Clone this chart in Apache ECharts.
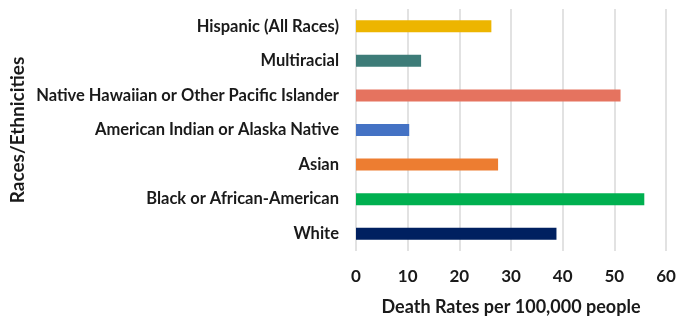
<!DOCTYPE html>
<html>
<head>
<meta charset="utf-8">
<script src="https://cdn.jsdelivr.net/npm/echarts@6/dist/echarts.min.js"></script>
<style>
  html, body { margin: 0; padding: 0; background: #fff; }
  #chart { width: 677px; height: 318px; }
</style>
</head>
<body>
<div id="chart"></div>
<script>
// categories bottom to top (category axis draws first at the bottom)
var groups = ['White', 'Black or African-American', 'Asian', 'American Indian or Alaska Native',
  'Native Hawaiian or Other Pacific Islander', 'Multiracial', 'Hispanic (All Races)']
var rates = [38.8, 55.8, 27.5, 10.3, 51.2, 12.6, 26.2]
var barColors = ['#002060', '#00B050', '#ED7D31', '#4472C4', '#E5735F', '#3D7C78', '#EDB500']
var xTicks = [0, 10, 20, 30, 40, 50, 60]

var font = 'Lato'
var Chart = echarts.init(document.getElementById('chart'))
var option = {
    animation: false,
    grid: {
        left: 356,
        right: 11,
        top: 9,
        bottom: 67,
        containLabel: false,
        outerBoundsMode: 'none'
    },
    xAxis: {
        type: 'value',
        min: xTicks[0],
        max: xTicks[xTicks.length - 1],
        interval: 10,
        name: 'Death Rates per 100,000 people',
        nameLocation: 'middle',
        nameGap: 47,
        nameTextStyle: { fontFamily: font, fontWeight: 'bold', fontSize: 18, color: '#1a1a1a' },
        axisLine: { show: false },
        axisTick: { show: false },
        axisLabel: { margin: 17, fontFamily: font, fontWeight: 'bold', fontSize: 17, color: '#1a1a1a' },
        splitLine: { lineStyle: { color: '#D9D9D9', width: 1.5 } }
    },
    yAxis: {
        type: 'category',
        data: groups,
        name: 'Races/Ethnicities',
        nameLocation: 'middle',
        nameGap: 329,
        nameTextStyle: { fontFamily: font, fontWeight: 'bold', fontSize: 19, color: '#1a1a1a' },
        axisLine: { show: false },
        axisTick: { show: false },
        axisLabel: { margin: 17, fontFamily: font, fontWeight: 'bold', fontSize: 16.5, color: '#1a1a1a' }
    },
    series: [
        {
            type: 'bar',
            data: rates.map(function (v, i) {
                return { value: v, itemStyle: { color: barColors[i] } }
            }),
            barWidth: 12
        }
    ]
};
Chart.setOption(option)
</script>
</body>
</html>
